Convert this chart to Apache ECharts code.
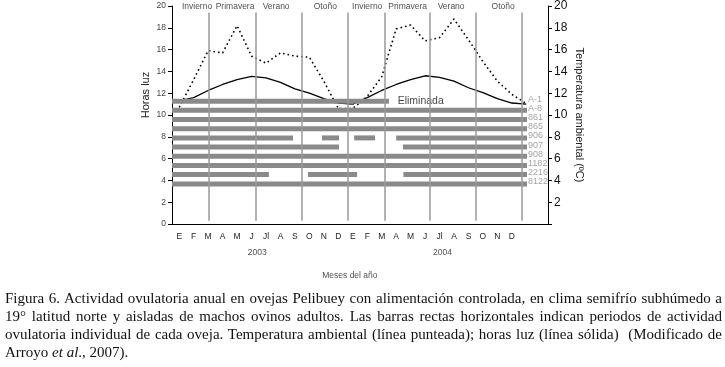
<!DOCTYPE html>
<html>
<head>
<meta charset="utf-8">
<script src="https://cdn.jsdelivr.net/npm/echarts@6/dist/echarts.min.js"></script>
<style>
  html, body { margin: 0; padding: 0; background: #fff; }
  #wrap { position: relative; width: 725px; height: 367px; overflow: hidden; }
  #chart { position: absolute; left: 0; top: 0; width: 725px; height: 367px; }
  .caption {
    position: absolute; left: 5px; top: 289px; width: 717px;
    font-family: "Liberation Serif", serif; font-size: 15px; line-height: 18px; color: #111;
  }
  .caption div { text-align: justify; text-align-last: justify; white-space: nowrap; }
  .caption div.last { text-align-last: left; }
</style>
</head>
<body>
<div id="wrap">
  <div id="chart"></div>
  <div class="caption">
    <div>Figura 6. Actividad ovulatoria anual en ovejas Pelibuey con alimentación controlada, en clima semifrío subhúmedo a</div>
    <div>19° latitud norte y aisladas de machos ovinos adultos. Las barras rectas horizontales indican periodos de actividad</div>
    <div>ovulatoria individual de cada oveja. Temperatura ambiental (línea punteada); horas luz (línea sólida)&nbsp; (Modificado de</div>
    <div class="last">Arroyo <i>et al</i>., 2007).</div>
  </div>
</div>
<script>
// meses ene 2003 - dic 2004 (+2 vacíos al final del eje)
const meses = ['E','F','M','A','M','J','Jl','A','S','O','N','D','E','F','M','A','M','J','Jl','A','S','O','N','D','',''];

// horas luz (eje izq) y temperatura (eje der), un valor por mes
const horasLuz = [11.3, 11.6, 12.25, 12.8, 13.25, 13.55, 13.4, 13.0, 12.4, 12.0, 11.5, 11.1,
                  11.0, 11.6, 12.25, 12.8, 13.25, 13.6, 13.45, 13.1, 12.5, 12.05, 11.5, 11.1, 11.0];
const temperatura = [10.7, 13.25, 15.9, 15.7, 18.2, 15.4, 14.75, 15.7, 15.4, 15.3, 13.1, 10.6,
                     10.6, 11.7, 13.5, 17.9, 18.25, 16.8, 17.1, 18.8, 16.9, 14.9, 13.1, 11.9, 11.05];

// ovejas y periodos de actividad ovulatoria (meses desde ene 2003)
const ovejas = ['A-1', 'A-8', '861', '865', '906', '907', '908', '1182', '2216', '8122'];
const filas = [11.27, 10.43, 9.58, 8.74, 7.9, 7.06, 6.21, 5.37, 4.53, 3.68];
const periodos = [
  [[0, 15.0]],
  [[0, 24.55]],
  [[0, 24.55]],
  [[0, 24.55]],
  [[0, 8.37], [10.37, 11.55], [12.6, 14.04], [15.5, 24.55]],
  [[0, 11.55], [15.97, 24.55]],
  [[0, 24.55]],
  [[0, 24.55]],
  [[0, 6.7], [9.4, 12.8], [16.0, 24.55]],
  [[0, 24.55]]
];

// estaciones
const limitesEstacion = [2.56, 5.8, 9.0, 12.17, 14.73, 17.84, 21.0, 24.2];
const estaciones = ['Invierno', 'Primavera', 'Verano', 'Otoño', 'Invierno', 'Primavera', 'Verano', 'Otoño'];
const posEstacion = [1.73, 4.36, 7.2, 10.6, 13.5, 16.3, 19.3, 22.9];

const anios = ['2003', '2004'];
const posAnio = [5.9, 18.7];

let barras = [];
periodos.forEach((p, i) => {
  p.forEach((s) => barras.push([s[0], s[1], filas[i]]));
});

const font = 'Liberation Sans, Arial, sans-serif';
const chart = echarts.init(document.getElementById('chart'));

const option = {
  backgroundColor: '#fff',
  animation: false,
  grid: { left: 172, right: 177, top: 6, bottom: 143 },
  xAxis: [
    {
      type: 'category',
      data: meses,
      boundaryGap: true,
      axisLine: { lineStyle: { color: '#000', width: 1 } },
      axisTick: { length: 4, lineStyle: { color: '#000' } },
      axisLabel: { color: '#222', fontSize: 8.5, fontFamily: font, margin: 8, interval: 0 },
      splitLine: { show: false }
    },
    { type: 'value', min: 0, max: 26, show: false }
  ],
  yAxis: [
    {
      type: 'value', min: 0, max: 20, interval: 2, position: 'left',
      name: 'Horas luz', nameLocation: 'middle', nameRotate: 90, nameGap: 21,
      nameMoveOverlap: false,
      nameTextStyle: { color: '#222', fontSize: 11, fontFamily: font, padding: [0, 0, 0, 40] },
      axisLine: { show: true, lineStyle: { color: '#000' } },
      axisTick: { show: true, length: 4, lineStyle: { color: '#000' } },
      axisLabel: { color: '#444', fontSize: 8.5, fontFamily: font, margin: 6 },
      splitLine: { show: false }
    },
    {
      type: 'value', min: 0, max: 20, interval: 2, position: 'right',
      name: 'Temperatura ambiental (ºC)', nameLocation: 'middle', nameRotate: -90, nameGap: 26,
      nameMoveOverlap: false,
      nameTextStyle: { color: '#222', fontSize: 11, fontFamily: font },
      axisLine: { show: true, lineStyle: { color: '#000' } },
      axisTick: { show: true, length: 4, lineStyle: { color: '#000' } },
      axisLabel: {
        color: '#111', fontSize: 12, fontFamily: font, margin: 6,
        formatter: (v) => (v === 0 ? '' : v)
      },
      splitLine: { show: false }
    }
  ],
  series: [
    {
      // líneas divisorias de estaciones
      type: 'line', xAxisIndex: 1, yAxisIndex: 0, data: [], z: 1,
      markLine: {
        silent: true, symbol: 'none', animation: false,
        label: { show: false },
        lineStyle: { color: '#9a9a9a', width: 1.5, type: 'solid' },
        data: limitesEstacion.map((x) => [{ coord: [x, 0.3] }, { coord: [x, 19.4] }])
      }
    },
    {
      name: 'Horas luz', type: 'line', xAxisIndex: 1, yAxisIndex: 0, z: 2,
      data: horasLuz.map((v, i) => [i + 0.5, v]),
      symbol: 'none',
      lineStyle: { color: '#000', width: 1.3 }
    },
    {
      name: 'Temperatura', type: 'line', xAxisIndex: 1, yAxisIndex: 1, z: 2,
      data: temperatura.map((v, i) => [i + 0.5, v]),
      symbol: 'none',
      lineStyle: { color: '#000', width: 1.6, type: [1.6, 3], cap: 'butt' }
    },
    {
      name: 'Actividad', type: 'custom', xAxisIndex: 1, yAxisIndex: 0, z: 3,
      data: barras,
      encode: { x: [0, 1], y: 2 },
      renderItem: function (params, api) {
        const a = api.coord([api.value(0), api.value(2)]);
        const b = api.coord([api.value(1), api.value(2)]);
        const h = 5;
        return {
          type: 'rect',
          shape: { x: a[0], y: a[1] - h / 2, width: b[0] - a[0], height: h },
          style: { fill: '#8a8a8a' }
        };
      }
    },
    {
      // identificación de ovejas
      type: 'scatter', xAxisIndex: 1, yAxisIndex: 0, z: 4, clip: false,
      symbolSize: 0, silent: true,
      data: filas.map((y, i) => ({ value: [24.55, y], name: ovejas[i] })),
      label: {
        show: true, position: 'right', distance: 1, offset: [0, -2],
        formatter: '{b}', color: '#8c8c8c', fontSize: 9, fontFamily: font
      }
    },
    {
      type: 'scatter', xAxisIndex: 1, yAxisIndex: 0, z: 4, clip: false,
      symbolSize: 0, silent: true,
      data: [{ value: [17.2, filas[0]], name: 'Eliminada' }],
      label: { show: true, position: 'inside', formatter: '{b}', color: '#111', fontSize: 10.5, fontFamily: font }
    },
    {
      // estaciones del año
      type: 'scatter', xAxisIndex: 1, yAxisIndex: 0, z: 4, clip: false,
      symbolSize: 0, silent: true,
      data: estaciones.map((n, i) => ({ value: [posEstacion[i], 19.9], name: n })),
      label: { show: true, position: 'inside', formatter: '{b}', color: '#222', fontSize: 8.5, fontFamily: font }
    },
    {
      // años y título del eje x
      type: 'scatter', xAxisIndex: 1, yAxisIndex: 0, z: 4, clip: false,
      symbolSize: 0, silent: true,
      data: anios.map((n, i) => ({ value: [posAnio[i], -2.6], name: n }))
        .concat([{ value: [12.3, -4.7], name: 'Meses del año' }]),
      label: { show: true, position: 'inside', formatter: '{b}', color: '#222', fontSize: 8.5, fontFamily: font }
    }
  ]
};

chart.setOption(option);
</script>
</body>
</html>
